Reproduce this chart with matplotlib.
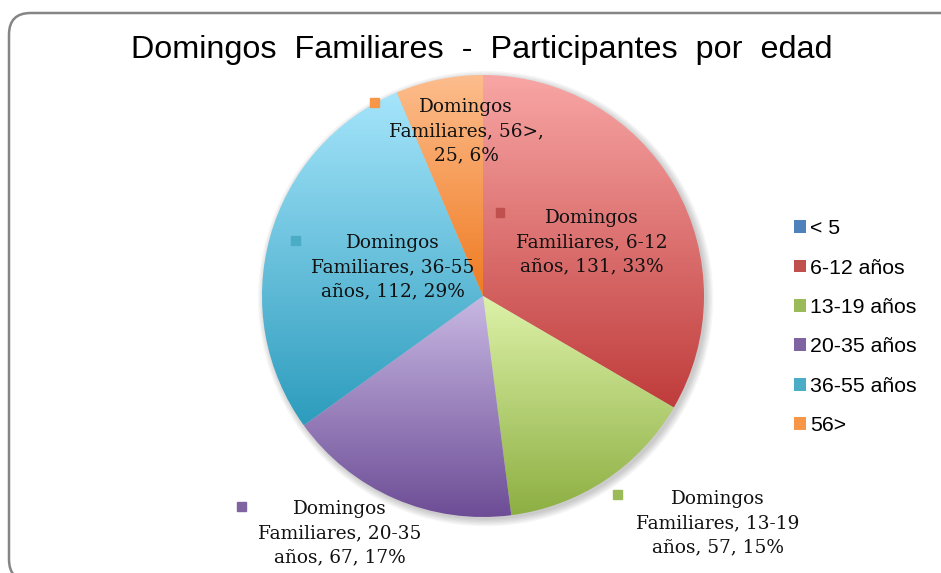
import textwrap

import matplotlib.pyplot as plt
import numpy as np
from matplotlib.colors import LinearSegmentedColormap
from matplotlib.patches import FancyBboxPatch, Patch

series = 'Domingos Familiares'
categories = ['< 5', '6-12 años', '13-19 años', '20-35 años', '36-55 años', '56>']
values = [0, 131, 57, 67, 112, 25]
# (top, bottom) colours of the gradient fill of each slice
top_colors = ['#95B3D7', '#F8A6A5', '#DDF2A9', '#C8B8E3', '#A5E5FB', '#FDBD8D']
bottom_colors = ['#3F6FAE', '#BF3C3B', '#8DAF42', '#6D4D96', '#2D9CBD', '#EF7B22']
legend_colors = ['#4F81BD', '#C0504D', '#9BBB59', '#8064A2', '#4BACC6', '#F79646']

W, H = 941, 573
fig = plt.figure(figsize=(W / 100, H / 100), dpi=100)


def fx(px):
    return px / W


def fy(py):
    return 1 - py / H


# outer frame
frame = FancyBboxPatch((fx(9), fy(581)), fx(1000), (581 - 13) / H,
                       boxstyle='round,pad=0,rounding_size=0.023',
                       transform=fig.transFigure, facecolor='white',
                       edgecolor='#858585', linewidth=1.8, zorder=-5,
                       mutation_aspect=W / H)
fig.patches.append(frame)

fig.text(fx(482), fy(50), 'Domingos  Familiares  -  Participantes  por  edad',
         ha='center', va='center', fontsize=23.3, family='Liberation Sans')

# pie
cx, cy, r = 483, 296, 221
ax = fig.add_axes([fx(cx - r), fy(cy + r), 2 * r / W, 2 * r / H])
ax.patch.set_visible(False)
wedges, _ = ax.pie(values, startangle=90, counterclock=False, radius=1,
                   wedgeprops=dict(linewidth=0))

# soft shadow under the pie
for k in range(6):
    ax.add_patch(plt.Circle((0.012, -0.012), 1 + 0.006 * k, color='#000000',
                            alpha=0.035, zorder=0.1, linewidth=0, clip_on=False))

grad = np.linspace(0, 1, 256).reshape(-1, 1)
for w, v, c0, c1 in zip(wedges, values, top_colors, bottom_colors):
    if v == 0:
        continue
    w.set_facecolor('none')
    bb = w.get_path().get_extents()
    cmap = LinearSegmentedColormap.from_list('g', [c0, c1])
    im = ax.imshow(grad, cmap=cmap, aspect='auto', origin='upper',
                   extent=[bb.x0, bb.x1, bb.y0, bb.y1], zorder=0.5)
    im.set_clip_path(w)
    w.set_zorder(1)

ax.set_xlim(-1.0, 1.0)
ax.set_ylim(-1.0, 1.0)
ax.set_aspect('equal')
ax.axis('off')

# data labels
total = sum(values)
label_pos = {'6-12 años': (592, 242, 500, 212),
             '13-19 años': (718, 523, 617, 494),
             '20-35 años': (340, 533, 241, 506),
             '36-55 años': (393, 267, 295, 240),
             '56>': (466, 131, 374, 102)}
for cat, v, col in zip(categories, values, legend_colors):
    if v == 0:
        continue
    pct = round(v / total * 100)
    txt = textwrap.fill(f'{series}, {cat}, {v}, {pct}%', width=17)
    x, y, mx, my = label_pos[cat]
    fig.text(fx(x), fy(y), txt, ha='center', va='center', fontsize=13.3,
             family='DejaVu Serif', linespacing=1.42, color='#111111')
    fig.patches.append(plt.Rectangle((fx(mx - 4.5), fy(my + 4.5)), fx(9), 9 / H,
                                     transform=fig.transFigure, color=col,
                                     zorder=3))

handles = [Patch(facecolor=c, edgecolor='none') for c in legend_colors]
fig.legend(handles, categories, loc='upper left',
           bbox_to_anchor=(fx(775), fy(200)), frameon=False,
           prop=dict(family='Liberation Sans', size=15.3),
           handlelength=0.55, handleheight=0.55, handletextpad=0.2,
           labelspacing=0.96)

fig.savefig('out.png', dpi=100)
